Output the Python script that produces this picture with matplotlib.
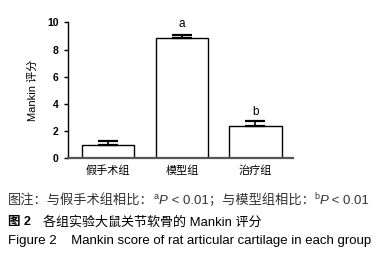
import matplotlib
matplotlib.use("Agg")
import matplotlib.pyplot as plt

plt.rcParams['font.family'] = ['Liberation Sans', 'Noto Sans CJK SC', 'DejaVu Sans']

groups = ["假手术组", "模型组", "治疗组"]
scores = [1.0, 8.85, 2.4]
errors = [0.27, 0.22, 0.33]
marks = ["", "a", "b"]
mark_y = [0, 9.9, 3.4]

fig = plt.figure(figsize=(3.88, 2.57), dpi=100)
ax = fig.add_axes([0.175, 0.384, 0.58, 0.529])

x = range(len(groups))
ax.bar(x, scores, width=0.71, color="white", edgecolor="black", linewidth=1.0,
       yerr=[[0] * len(errors), errors], capsize=7,
       error_kw=dict(elinewidth=1.2, capthick=1.6, ecolor="black"))
for i, m in enumerate(marks):
    if m:
        ax.text(i, mark_y[i], m, ha="center", va="center", fontsize=8.5)

ax.set_xlim(-0.55, 2.51)
ax.set_ylim(0, 10)
ax.set_yticks([0, 2, 4, 6, 8, 10])
ax.set_xticks(list(x))
ax.set_xticklabels(groups, fontsize=8, family=['Noto Sans CJK SC'])
ax.tick_params(axis='x', length=0, pad=5)
ax.tick_params(axis='y', labelsize=7.5, width=1, length=3)
for lab in ax.get_yticklabels():
    lab.set_fontweight('bold')
ax.set_ylabel("Mankin 评分", fontsize=8, labelpad=7)
ax.spines['top'].set_visible(False)
ax.spines['right'].set_visible(False)
ax.spines['bottom'].set_color('#555555')
ax.spines['bottom'].set_linewidth(1.6)
ax.spines['left'].set_linewidth(1.0)

# caption line 1, pieced together for superscripts / italics
renderer = fig.canvas.get_renderer()
pieces = [("图注：与假手术组相比：", "n"), ("a", "sup"), ("P", "it"), (" < 0.01；与模型组相比：", "n"),
          ("b", "sup"), ("P", "it"), (" < 0.01", "n")]
xpos = 8
ybase = 0.219
for txt, kind in pieces:
    size = 9.5
    style = "normal"
    y = ybase
    if kind == "sup":
        size = 6.5
        y = ybase + 0.018
    if kind == "it":
        style = "italic"
    t = fig.text(xpos / 388, y, txt, fontsize=size, style=style, va="center", color="#333333")
    xpos += t.get_window_extent(renderer).width

fig.text(0.02, 0.137, "图 2", fontsize=9, fontweight="bold", va="center")
fig.text(0.11, 0.137, "各组实验大鼠关节软骨的 Mankin 评分", fontsize=9.4, va="center")
fig.text(0.02, 0.063, "Figure 2    Mankin score of rat articular cartilage in each group",
         fontsize=9.5, va="center")

fig.savefig("out.png", dpi=100)
